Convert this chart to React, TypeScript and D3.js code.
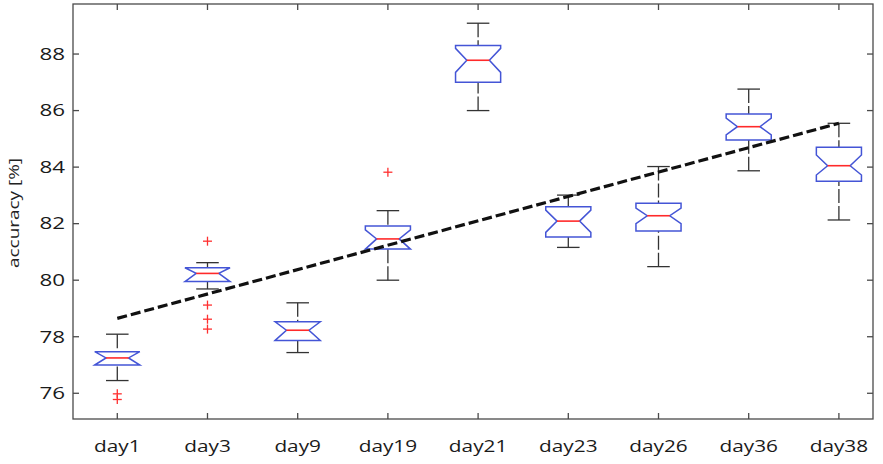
import * as d3 from "d3";

const days = ["day1", "day3", "day9", "day19", "day21", "day23", "day26", "day36", "day38"];
const upperWhisker = [78.09, 80.62, 79.2, 82.46, 89.09, 83.01, 84.02, 86.76, 85.55];
const q3 = [77.47, 80.44, 78.53, 81.92, 88.3, 82.6, 82.72, 85.88, 84.7];
const medians = [77.25, 80.24, 78.23, 81.46, 87.78, 82.09, 82.28, 85.43, 84.05];
const q1 = [77.0, 79.95, 77.87, 81.1, 87.0, 81.53, 81.74, 84.96, 83.5];
const lowerWhisker = [76.45, 79.69, 77.44, 80.0, 86.0, 81.16, 80.48, 83.87, 82.13];
const notchHi = [77.47, 80.44, 78.53, 81.78, 88.2, 82.48, 82.55, 85.73, 84.43];
const notchLo = [77.0, 79.95, 77.87, 81.1, 87.35, 81.69, 82.0, 85.14, 83.72];

const outlierDays = ["day1", "day1", "day3", "day3", "day3", "day3", "day19"];
const outlierValues = [75.98, 75.78, 81.38, 79.12, 78.62, 78.27, 83.82];

const trendDays = ["day1", "day38"];
const trendValues = [78.65, 85.55];

const yTicks = [76, 78, 80, 82, 84, 86, 88];

const W = 883;
const H = 464;
const plot = { left: 73, right: 873, top: 4, bottom: 419 };

const Boxplot = () => {
  // group position 1..n on a linear scale
  const x = d3.scaleLinear().domain([0.509, 9.378]).range([plot.left, plot.right]);
  const y = d3.scaleLinear().domain([75.09, 89.77]).range([plot.bottom, plot.top]);
  const pos = (day: string) => x(days.indexOf(day) + 1);

  const hw = x(1.25) - x(1); // box half width
  const nw = hw / 2; // notch / cap half width
  const tickLen = 6;
  const frame = "#4a4a4a";

  const trendLine = d3
    .line<number>()
    .x((_, i) => pos(trendDays[i]))
    .y((v) => y(v));

  return (
    <svg width={W} height={H} style={{ display: "block", background: "#fff" }}>
      {/* whiskers */}
      {days.map((d, i) => {
        const cx = pos(d);
        return (
          <g key={"w" + d} stroke="#333" strokeWidth={1.3} fill="none">
            <line x1={cx} x2={cx} y1={y(upperWhisker[i])} y2={y(q3[i])} strokeDasharray="14,3" />
            <line x1={cx} x2={cx} y1={y(lowerWhisker[i])} y2={y(q1[i])} strokeDasharray="14,3" />
            <line x1={cx - nw} x2={cx + nw} y1={y(upperWhisker[i])} y2={y(upperWhisker[i])} />
            <line x1={cx - nw} x2={cx + nw} y1={y(lowerWhisker[i])} y2={y(lowerWhisker[i])} />
          </g>
        );
      })}

      {/* notched boxes */}
      {days.map((d, i) => {
        const cx = pos(d);
        const hi = Math.min(notchHi[i], q3[i]);
        const lo = Math.max(notchLo[i], q1[i]);
        const pts: [number, number][] = [
          [cx - hw, y(q1[i])],
          [cx - hw, y(lo)],
          [cx - nw, y(medians[i])],
          [cx - hw, y(hi)],
          [cx - hw, y(q3[i])],
          [cx + hw, y(q3[i])],
          [cx + hw, y(hi)],
          [cx + nw, y(medians[i])],
          [cx + hw, y(lo)],
          [cx + hw, y(q1[i])],
        ];
        return (
          <g key={"b" + d}>
            <path
              d={d3.line()(pts) + "Z"}
              fill="none"
              stroke="#4455d6"
              strokeWidth={1.5}
              strokeLinejoin="miter"
            />
            <line
              x1={cx - nw}
              x2={cx + nw}
              y1={y(medians[i])}
              y2={y(medians[i])}
              stroke="#ff2a2a"
              strokeWidth={1.6}
            />
          </g>
        );
      })}

      {/* outliers */}
      {outlierValues.map((v, i) => {
        const cx = pos(outlierDays[i]);
        const cy = y(v);
        return (
          <g key={"o" + i} stroke="#ff3030" strokeWidth={1.3}>
            <line x1={cx - 4.5} x2={cx + 4.5} y1={cy} y2={cy} />
            <line x1={cx} x2={cx} y1={cy - 4.5} y2={cy + 4.5} />
          </g>
        );
      })}

      {/* trend */}
      <path
        d={trendLine(trendValues) ?? ""}
        fill="none"
        stroke="#111"
        strokeWidth={3.2}
        strokeDasharray="10,4"
      />

      {/* frame */}
      <rect
        x={plot.left}
        y={plot.top}
        width={plot.right - plot.left}
        height={plot.bottom - plot.top}
        fill="none"
        stroke={frame}
        strokeWidth={1.3}
      />

      {/* x ticks top + bottom */}
      {days.map((d) => {
        const cx = pos(d);
        return (
          <g key={"xt" + d} stroke={frame} strokeWidth={1.3}>
            <line x1={cx} x2={cx} y1={plot.bottom} y2={plot.bottom - tickLen} />
            <line x1={cx} x2={cx} y1={plot.top} y2={plot.top + tickLen} />
          </g>
        );
      })}

      {/* y ticks left + right */}
      {yTicks.map((t) => (
        <g key={"yt" + t} stroke={frame} strokeWidth={1.3}>
          <line x1={plot.left} x2={plot.left + tickLen} y1={y(t)} y2={y(t)} />
          <line x1={plot.right} x2={plot.right - tickLen} y1={y(t)} y2={y(t)} />
        </g>
      ))}

      {/* y tick labels */}
      {yTicks.map((t) => (
        <text
          key={"yl" + t}
          transform={`translate(65,${y(t) + 5.8}) scale(1.4,1)`}
          textAnchor="end"
          fontFamily="Open Sans"
          fontSize={16}
          fill="#1a1a1a"
        >
          {t}
        </text>
      ))}

      {/* x tick labels */}
      {days.map((d) => (
        <text
          key={"xl" + d}
          transform={`translate(${pos(d)},452) scale(1.3,1)`}
          textAnchor="middle"
          fontFamily="Open Sans"
          fontSize={16}
          fill="#1a1a1a"
        >
          {d}
        </text>
      ))}

      {/* y axis label */}
      <text
        transform="translate(19,213) rotate(-90)"
        textAnchor="middle"
        fontFamily="Open Sans"
        fontSize={15}
        fill="#222"
        textLength={110}
        lengthAdjust="spacingAndGlyphs"
      >
        accuracy [%]
      </text>
    </svg>
  );
};

export default function App() {
  return (
    <div style={{ position: "absolute", left: 0, top: 0 }}>
      <Boxplot />
    </div>
  );
}
